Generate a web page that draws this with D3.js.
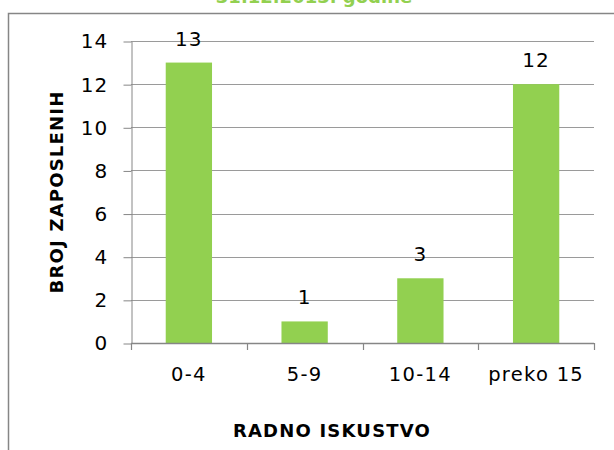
<!DOCTYPE html>
<html lang="hr">
<head>
<meta charset="UTF-8">
<script src="https://d3js.org/d3.v7.min.js"></script>
<style>
  body { margin: 0; background: #fff; }
  svg { display: block; font-family: 'DejaVu Sans', sans-serif; }
</style>
</head>
<body>
<svg id="chart" width="614" height="450"></svg>
<script>
// ---- data ----
const categories = ["0-4", "5-9", "10-14", "preko 15"];
const employees = [13, 1, 3, 12];
const yTicks = [0, 2, 4, 6, 8, 10, 12, 14];
const titleText = "31.12.2013. godine";
const yTitle = "BROJ ZAPOSLENIH";
const xTitle = "RADNO ISKUSTVO";

const GREEN = "#92D050";
const AXIS = "#868686";

const svg = d3.select("#chart");
const plot = { left: 131, right: 594, top: 41, bottom: 343 };

// outer frame (runs off the right and bottom edge)
svg.append("rect")
  .attr("x", 8.5).attr("y", 13.5)
  .attr("width", 700).attr("height", 600)
  .attr("fill", "none").attr("stroke", AXIS).attr("stroke-width", 1.5);

// title, cut off by the top edge as in the source
svg.append("text")
  .attr("x", 314).attr("y", 3)
  .attr("text-anchor", "middle")
  .attr("font-size", 18).attr("font-weight", "bold")
  .attr("fill", GREEN)
  .text(titleText);

const x = d3.scaleBand()
  .domain(categories)
  .range([plot.left, plot.right])
  .paddingInner(0.6).paddingOuter(0.3);

const y = d3.scaleLinear().domain([0, 14]).range([plot.bottom, plot.top]);

// gridlines
svg.append("g").selectAll("line").data(yTicks.slice(1)).join("line")
  .attr("x1", plot.left).attr("x2", plot.right)
  .attr("y1", d => Math.round(y(d)) + 0.5).attr("y2", d => Math.round(y(d)) + 0.5)
  .attr("stroke", "#9a9a9a").attr("stroke-width", 1);

// y axis
const yAxis = svg.append("g")
  .attr("transform", `translate(${plot.left + 0.5},0.5)`)
  .call(d3.axisLeft(y).tickValues(yTicks).tickSize(8).tickPadding(15).tickSizeOuter(0));
yAxis.select(".domain").attr("stroke", AXIS);
yAxis.selectAll(".tick line").attr("stroke", AXIS);
yAxis.selectAll(".tick text")
  .attr("font-size", 20).attr("fill", "#000")
  .attr("letter-spacing", 1.2)
  .attr("font-family", "'DejaVu Sans', sans-serif");

// bars
svg.append("g").selectAll("rect").data(employees).join("rect")
  .attr("x", (d, i) => x(categories[i]))
  .attr("y", d => y(d))
  .attr("width", x.bandwidth())
  .attr("height", d => y(0) - y(d))
  .attr("fill", GREEN);

// data labels
svg.append("g").selectAll("text").data(employees).join("text")
  .attr("x", (d, i) => x(categories[i]) + x.bandwidth() / 2)
  .attr("y", d => y(d) - 17)
  .attr("text-anchor", "middle")
  .attr("font-size", 20)
  .attr("letter-spacing", 1.2)
  .text(d => d);

// x axis line + boundary ticks
const step = x.step();
const edges = d3.range(categories.length + 1).map(i => plot.left + i * step);
svg.append("line")
  .attr("x1", plot.left).attr("x2", plot.right)
  .attr("y1", plot.bottom + 0.5).attr("y2", plot.bottom + 0.5)
  .attr("stroke", AXIS).attr("stroke-width", 1.5);
svg.append("g").selectAll("line").data(edges).join("line")
  .attr("x1", d => Math.round(d) + 0.5).attr("x2", d => Math.round(d) + 0.5)
  .attr("y1", plot.bottom).attr("y2", plot.bottom + 7)
  .attr("stroke", AXIS).attr("stroke-width", 1.2);

// category labels
svg.append("g").selectAll("text").data(categories).join("text")
  .attr("x", d => x(d) + x.bandwidth() / 2)
  .attr("y", 381)
  .attr("text-anchor", "middle")
  .attr("font-size", 19.5)
  .attr("letter-spacing", 1.3)
  .text(d => d);

// axis titles
svg.append("text")
  .attr("transform", "translate(63,192) rotate(-90)")
  .attr("text-anchor", "middle")
  .attr("font-size", 18).attr("font-weight", "bold")
  .attr("letter-spacing", 1.2)
  .text(yTitle);

svg.append("text")
  .attr("x", 332).attr("y", 437)
  .attr("text-anchor", "middle")
  .attr("font-size", 18).attr("font-weight", "bold")
  .attr("letter-spacing", 1.2)
  .text(xTitle);
</script>
</body>
</html>
